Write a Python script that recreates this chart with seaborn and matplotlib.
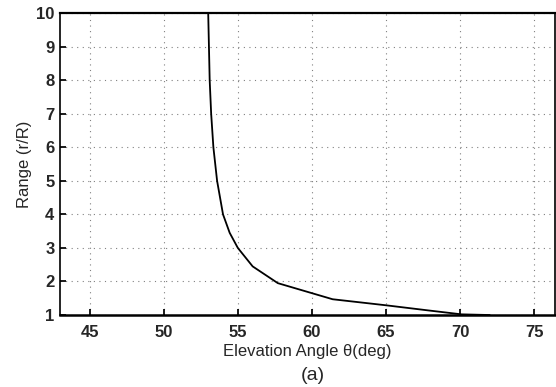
import numpy as np
import pandas as pd
import seaborn as sns
import matplotlib.pyplot as plt

# curve values
elev = [53.0, 53.05, 53.1, 53.2, 53.35, 53.6, 54.0, 54.45, 55.0, 56.0, 57.7, 61.4, 65.0, 67.8, 70.1, 72.0]
rng = [10.0, 9.0, 8.0, 7.0, 6.0, 5.0, 4.0, 3.45, 3.0, 2.45, 1.95, 1.47, 1.29, 1.14, 1.02, 1.0]
xticks = [45, 50, 55, 60, 65, 70, 75]
yticks = [1, 2, 3, 4, 5, 6, 7, 8, 9, 10]

df = pd.DataFrame({"elev": elev, "range": rng})

sns.set_theme(style="ticks")
plt.rcParams["font.family"] = ["Liberation Sans", "DejaVu Sans"]

fig = plt.figure(figsize=(5.56, 3.87), dpi=100)
ax = fig.add_axes([0.108, 0.186, 0.89, 0.78])

sns.lineplot(data=df, x="elev", y="range", sort=False, color="black", lw=1.3, ax=ax)

ax.set_xlim(43.0, 76.4)
ax.set_ylim(1, 10)
ax.set_xticks(xticks)
ax.set_yticks(yticks)
ax.grid(True, linestyle=(0, (1, 4)), color="gray", lw=0.8)
ax.tick_params(direction="in", labelsize=12, length=4, color="black")
ax.tick_params(axis="x", pad=7)
ax.tick_params(axis="y", pad=4)
for lab in ax.get_xticklabels() + ax.get_yticklabels():
    lab.set_fontweight("bold")
for s in ax.spines.values():
    s.set_color("black")
    s.set_linewidth(1.2)
ax.spines["bottom"].set_linewidth(1.8)
ax.spines["top"].set_linewidth(1.6)

ax.set_xlabel("Elevation Angle θ(deg)", fontsize=12, labelpad=3)
ax.set_ylabel("Range (r/R)", fontsize=12, labelpad=3)
fig.text(0.563, 0.031, "(a)", fontsize=14, ha="center", va="center")

fig.savefig("out.png", dpi=100)
